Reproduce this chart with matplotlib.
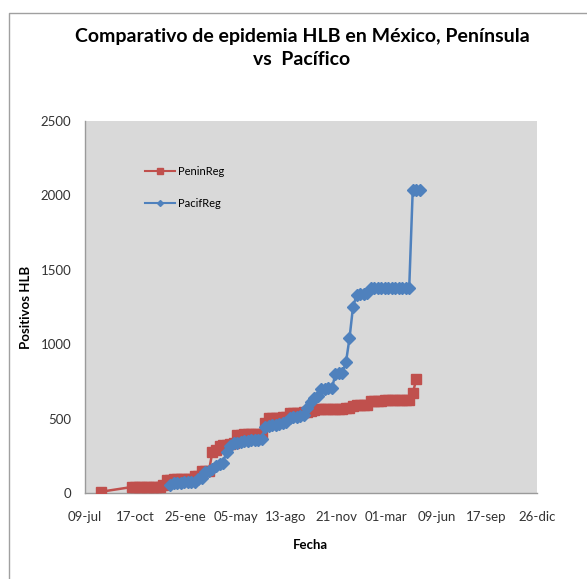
import pandas as pd
import matplotlib
matplotlib.use('Agg')
import matplotlib.pyplot as plt
from matplotlib.lines import Line2D

plt.rcParams['font.family'] = ['Lato', 'DejaVu Sans']

# weekly report dates
week_dates = pd.date_range('2008-10-10', periods=83, freq='7D')

penin_first_date = ['2008-08-09']
penin_first_value = [10]
penin_values = [
    42, 42, 42, 43, 43, 44, 44, 45, 45, 54,
    88, 92, 95, 95, 96, 96, 98, 98, 115, 118,
    150, 150, 152, 280, 292, 320, 322, 325, 328, 335,
    392, 394, 395, 396, 396, 397, 398, 398, 470, 505,
    506, 507, 508, 510, 512, 538, 540, 542, 542, 544,
    546, 552, 562, 564, 565, 565, 566, 566, 567, 568,
    568, 570, 570, 588, 590, 590, 592, 594, 620, 621,
    622, 622, 623, 623, 623, 623, 624, 624, 624, 624,
    670, 765,
]

pacif_start = 11
pacif_values = [
    55, 70, 72, 72, 75, 75, 75, 78, 98, 100,
    143, 150, 160, 180, 199, 205, 280, 320, 335, 340,
    345, 350, 350, 355, 355, 360, 365, 445, 450, 455,
    460, 465, 470, 480, 505, 510, 515, 520, 525, 575,
    615, 640, 655, 700, 700, 705, 705, 800, 805, 810,
    880, 1040, 1250, 1330, 1335, 1340, 1345, 1375, 1380, 1380,
    1380, 1380, 1380, 1380, 1380, 1380, 1380, 1380, 1380, 2035,
    2035, 2037,
]

penin_dates = list(pd.to_datetime(penin_first_date)) + list(week_dates[:len(penin_values)])
penin_all = penin_first_value + penin_values
pacif_dates = week_dates[pacif_start:pacif_start + len(pacif_values)]

tick_dates = ['2008-07-09', '2008-10-17', '2009-01-25', '2009-05-05', '2009-08-13',
              '2009-11-21', '2010-03-01', '2010-06-09', '2010-09-17', '2010-12-26']
tick_labels = ['09-jul', '17-oct', '25-ene', '05-may', '13-ago',
               '21-nov', '01-mar', '09-jun', '17-sep', '26-dic']
y_ticks = [0, 500, 1000, 1500, 2000, 2500]

red = '#C0504D'
blue = '#4F81BD'

fig = plt.figure(figsize=(5.87, 5.79), dpi=100)
ax = fig.add_axes([85 / 587, 1 - 493.3 / 579, 451.7 / 587, 372.6 / 579])
ax.set_facecolor('#d9d9d9')

ax.plot(penin_dates, penin_all, color=red, lw=1.8, marker='s', ms=6.5,
        mec=red, mfc=red, label='PeninReg', zorder=3)
ax.plot(pacif_dates, pacif_values, color=blue, lw=1.8, marker='D', ms=6,
        mec=blue, mfc=blue, label='PacifReg', zorder=4)

tick_dt = pd.to_datetime(tick_dates)
ax.set_xlim(tick_dt[0], tick_dt[-1])
ax.set_ylim(0, 2500)
ax.set_xticks(tick_dt)
ax.set_xticklabels(tick_labels, fontsize=9.5)
ax.set_yticks(y_ticks)
ax.set_yticklabels([str(v) for v in y_ticks], fontsize=9.5)
ax.tick_params(axis='both', length=0, pad=10, colors='#333333')
ax.tick_params(axis='x', pad=13)

for side in ['top', 'right']:
    ax.spines[side].set_visible(False)
for side in ['left', 'bottom']:
    ax.spines[side].set_color('#9a9a9a')
    ax.spines[side].set_linewidth(1)

ax.set_xlabel('Fecha', fontsize=9.5, fontweight='bold', labelpad=11)
ax.set_ylabel('Positivos HLB', fontsize=9.5, fontweight='bold', labelpad=6)

handles = [Line2D([0], [0], color=red, lw=1.5, marker='s', ms=4.5),
           Line2D([0], [0], color=blue, lw=1.5, marker='D', ms=3)]
ax.legend(handles, ['PeninReg', 'PacifReg'], loc='upper left',
          bbox_to_anchor=(0.111, 0.905), frameon=False, fontsize=8,
          labelspacing=1.9, handlelength=2.7, handletextpad=0.25)

fig.text(302 / 587, 1 - 28 / 579, 'Comparativo de epidemia HLB en México, Península\nvs  Pacífico',
         ha='center', va='top', fontsize=14, fontweight='bold', linespacing=1.4)

# chart area border (only left and top edges are visible)
fig.add_artist(Line2D([8.5 / 587, 8.5 / 587, 1], [0, 1 - 12.5 / 579, 1 - 12.5 / 579],
                      transform=fig.transFigure, color='#a0a0a0', lw=1))

fig.savefig('out.png', dpi=100)
